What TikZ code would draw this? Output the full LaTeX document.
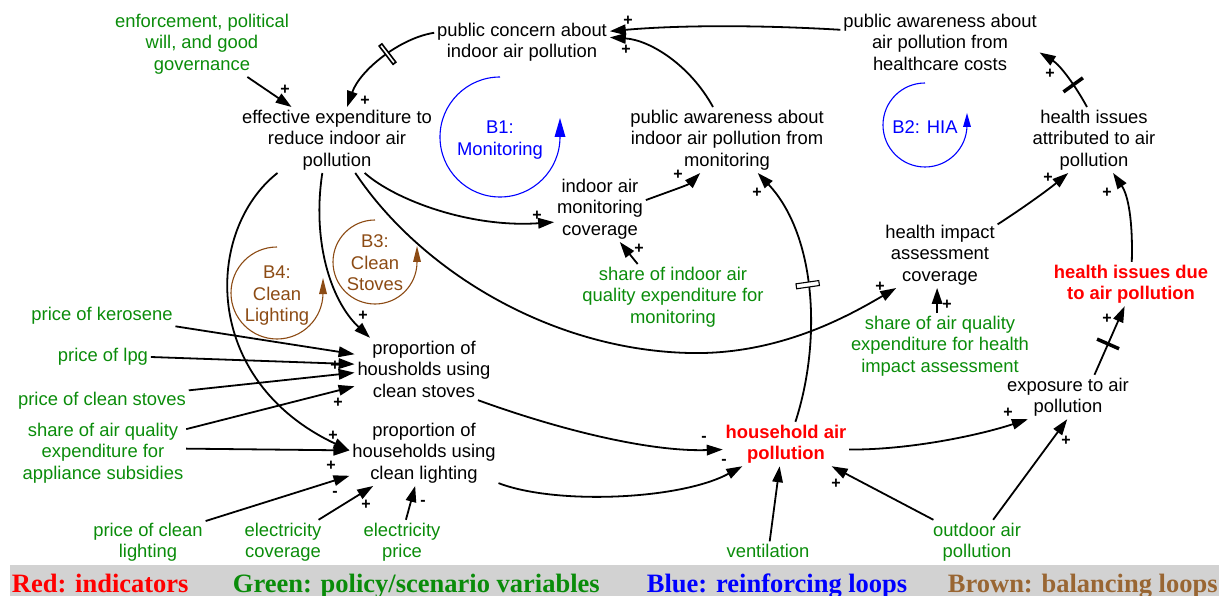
\documentclass[tikz,border=0pt]{standalone}
\usepackage{fontspec}
\setmainfont{Liberation Sans}
\newfontfamily\legendfont{Liberation Serif}
\usetikzlibrary{arrows.meta}

\tikzset{
  var/.style={align=center, inner sep=2pt, font=\fontsize{18.4}{21.5}\selectfont},
  policy/.style={var, text=policygreen},
  indicator/.style={var, text=indicatorred, font=\bfseries\fontsize{18.4}{21.5}\selectfont},
  sign/.style={inner sep=0pt, font=\bfseries\fontsize{16}{16}\selectfont},
  loopline/.style={line width=1.1pt},
  delaydouble/.style={draw, fill=white, line width=1.1pt, minimum width=5pt, minimum height=23pt, inner sep=0pt},
  delaysingle/.style={fill=black, minimum width=3.5pt, minimum height=24pt, inner sep=0pt},
  legendtext/.style={anchor=base west, inner sep=0pt, font=\legendfont\bfseries\fontsize{26.5}{26.5}\selectfont}
}

\begin{document}
\begin{tikzpicture}[x=1pt, y=-1pt, line width=1.8pt, >={Triangle[length=16pt,width=10.5pt]}]
%colours
\definecolor{policygreen}{RGB}{10,140,10}
\definecolor{indicatorred}{RGB}{255,0,0}
\definecolor{loopblue}{RGB}{0,0,255}
\definecolor{loopbrown}{RGB}{140,75,20}
\definecolor{legendbrown}{RGB}{153,102,51}
\definecolor{legendgray}{RGB}{210,210,210}

\useasboundingbox (0,0) rectangle (1224,596);

%legend bar
\fill[legendgray] (10,565) rectangle (1219,596);
\node(legred) at (11,592) [legendtext, text=indicatorred] {Red: indicators};
\node(leggreen) at (232,592) [legendtext, text=policygreen] {Green: policy/scenario variables};
\node(legblue) at (646,592) [legendtext, text=loopblue] {Blue: reinforcing loops};
\node(legbrown) at (947,592) [legendtext, text=legendbrown] {Brown: balancing loops};

%variables
\node(enforce) at (202,44) [policy] {enforcement, political\\will, and good\\governance};
\node(eff) at (337,140) [var] {effective expenditure to\\reduce indoor air\\pollution};
\node(concern) at (522,42) [var] {public concern about\\indoor air pollution};
\node(awhc) at (940,42) [var] {public awareness about\\air pollution from\\healthcare costs};
\node(awmon) at (727,140) [var] {public awareness about\\indoor air pollution from\\monitoring};
\node(hiattr) at (1094,140) [var] {health issues\\attributed to air\\pollution};
\node(imc) at (600,209) [var] {indoor air\\monitoring\\coverage};
\node(shimc) at (673,297) [policy] {share of indoor air\\quality expenditure for\\monitoring};
\node(hiac) at (940,255) [var] {health impact\\assessment\\coverage};
\node(shhia) at (940,346) [policy] {share of air quality\\expenditure for health\\impact assessment};
\node(hidue) at (1131,284) [indicator] {health issues due\\to air pollution};
\node(exp) at (1068,397) [var] {exposure to air\\pollution};
\node(hap) at (786,444) [indicator] {household air\\pollution};
\node(pstove) at (424,369) [var] {proportion of\\housholds using\\clean stoves};
\node(plight) at (424,453) [var] {proportion of\\households using\\clean lighting};
\node(kero) at (102,316) [policy] {price of kerosene};
\node(lpg) at (103,357) [policy] {price of lpg};
\node(pstov) at (102,401) [policy] {price of clean stoves};
\node(shapp) at (103,453) [policy] {share of air quality\\expenditure for\\appliance subsidies};
\node(plite) at (148,542) [policy] {price of clean\\lighting};
\node(ecov) at (283,542) [policy] {electricity\\coverage};
\node(eprice) at (402,542) [policy] {electricity\\price};
\node(vent) at (768,551) [policy] {ventilation};
\node(outdoor) at (977,542) [policy] {outdoor air\\pollution};

%loops, with the heads drawn as plain triangles
\draw[loopblue, loopline] (500,77) arc[start angle=90, end angle=360, radius=60pt];
\fill[loopblue] (560,137) ++(-5.5,0) -- ++(11,0) -- ++(-5.5,-19) -- cycle;
\node(lb1) at (500,140) [var, text=loopblue] {B1:\\Monitoring};
\draw[loopblue, loopline] (925,83) arc[start angle=90, end angle=360, radius=42pt];
\fill[loopblue] (967,127) ++(-4,0) -- ++(8,0) -- ++(-4,-14) -- cycle;
\node(lb2) at (925,127) [var, text=loopblue] {B2: HIA};
\draw[loopbrown, loopline] (375,220) arc[start angle=90, end angle=360, radius=42pt];
\fill[loopbrown] (417,262) ++(-4,0) -- ++(8,0) -- ++(-4,-16) -- cycle;
\node(lb3) at (375,263) [var, text=loopbrown] {B3:\\Clean\\Stoves};
\draw[loopbrown, loopline] (277,247) arc[start angle=90, end angle=360, radius=46pt];
\fill[loopbrown] (323,294) ++(-4,0) -- ++(8,0) -- ++(-4,-16) -- cycle;
\node(lb4) at (277,296) [var, text=loopbrown] {B4:\\Clean\\Lighting};

%polarities
\foreach \sx/\sy/\sg [count=\k] in {285/90/+, 365/101/+, 628/21/+, 626/50/+, 537/216/+,
    678/175/+, 639/249/+, 757/193/+, 880/287/+, 947/305/+, 1048/178/+, 1107/193/+,
    1050/74/+, 1107/319/+, 1008/413/+, 1066/441/+, 836/484/+, 704/439/-, 724/462/-,
    363/316/+, 335/366/+, 338/403/+, 333/436/+, 331/466/+, 335/494/-, 366/505/+, 423/503/-}
  \node(sg\k) at (\sx,\sy) [sign] {\sg};

%links
\draw[->] (enforce.-36) -- (eff.144);
\draw[->] (concern.174) .. controls (400,38) and (360,70) .. (eff.73) node[pos=.45, sloped, delaydouble, line width=1.6pt, minimum width=3.5pt] (dl1) {};
\draw[->] (awhc.173) .. controls (760,25) and (680,25) .. (concern.7);
\draw[->] (awmon.113) .. controls (690,65) and (650,40) .. (concern.3);
\draw[->] (eff.-50) .. controls (395,200) and (470,228) .. (imc.196);
\draw[->] (imc.11) .. controls (665,193) and (688,185) .. (awmon.231);
\draw[->] (shimc.137) -- (imc.-59);
\draw[->] (hap.67) .. controls (822,340) and (816,235) .. (awmon.-47) node[pos=.52, sloped, delaydouble] (dl2) {};
\draw[->] (eff.-61) .. controls (420,270) and (550,350) .. (690,353) .. controls (780,355) and (850,315) .. (hiac.217);
\draw[->] (pstove.-30) .. controls (560,430) and (650,452) .. (hap.185);
\draw[->] (plight.-22) .. controls (555,505) and (680,500) .. (hap.207);
\draw[->] (vent.80) -- (hap.-106);
\draw[->] (outdoor.153) -- (hap.-26);
\draw[->] (outdoor.54) -- (exp.-92);
\draw[->] (hap.-5) .. controls (910,450) and (980,435) .. (exp.209);
\draw[->] (exp.40) -- (hidue.-106) node[pos=.45, sloped, delaysingle] (dl3) {};
\draw[->] (hidue.88) .. controls (1133,220) and (1128,195) .. (hiattr.-60);
\draw[->] (hiac.28) .. controls (1020,210) and (1048,190) .. (hiattr.232);
\draw[->] (hiattr.102) .. controls (1075,85) and (1060,65) .. (awhc.-6) node[pos=.35, sloped, delaysingle] (dl4) {};
\draw[->] (shhia.95) -- (hiac.-95);
\draw[->] (kero.-8) -- (pstove.168);
\draw[->] (lpg.0) -- (pstove.176);
\draw[->] (pstov.7) -- (pstove.183);
\draw[->] (shapp.16) -- (pstove.194);
\draw[->] (shapp.3) -- (plight.178);
\draw[->] (eff.209) .. controls (205,230) and (200,380) .. (plight.178);
\draw[->] (eff.246) .. controls (312,240) and (330,300) .. (pstove.150);
\draw[->] (plite.20) -- (plight.197);
\draw[->] (ecov.32) -- (plight.213);
\draw[->] (eprice.80) -- (plight.255);
\end{tikzpicture}
\end{document}
